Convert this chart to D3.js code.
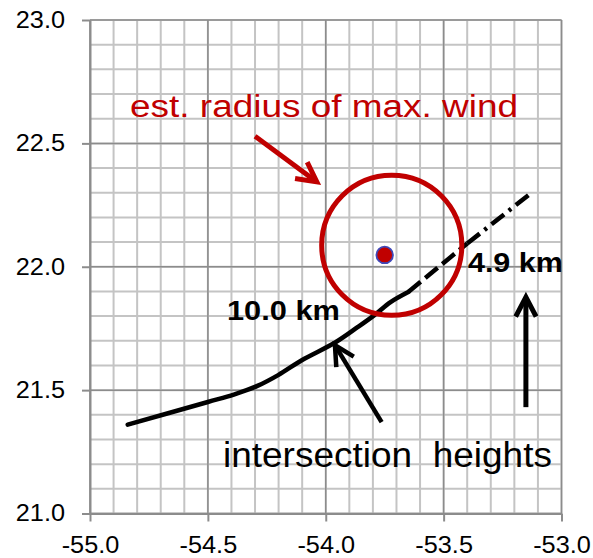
<!DOCTYPE html>
<html>
<head>
<meta charset="utf-8">
<script src="https://cdn.jsdelivr.net/npm/d3@7"></script>
<style>
  html, body { margin: 0; padding: 0; background: #fff; }
  svg { display: block; font-family: "Liberation Sans", Arial, sans-serif; }
</style>
</head>
<body>
<svg id="chart" width="593" height="558"></svg>
<script>
// Axis extents and tick labels
const xDomain = [-55, -53];
const yDomain = [21, 23];
const xTicks = [-55.0, -54.5, -54.0, -53.5, -53.0];
const yTicks = [21.0, 21.5, 22.0, 22.5, 23.0];
const gridStep = 0.1;

// Track of the line of sight (lon, lat) and the drawing style of each segment
const trackLon = [-54.84, -54.50, -54.39, -54.29, -54.20, -54.10, -53.96, -53.865, -53.795, -53.725, -53.65, -53.40, -53.13];
const trackLat = [21.360, 21.452, 21.482, 21.517, 21.562, 21.622, 21.693, 21.755, 21.803, 21.857, 21.898, 22.094, 22.298];
const segStyle = ["solid", "solid", "solid", "solid", "solid", "solid", "solid", "solid", "solid", "solid", "dash", "dashdot"];

// Storm centre and estimated radius of maximum wind (degrees latitude)
const centerLon = -53.75, centerLat = 22.048;
const rmwLon = -53.72, rmwLat = 22.087, rmwRadius = 0.284;

// Text annotations: [text, lon, lat, size, weight, color, width]
const labels = [
  ["est. radius of max. wind", -54.830, 22.607, 31, "normal", "#c00000", 388],
  ["10.0 km", -54.419, 21.786, 28, "bold", "#000", 113],
  ["4.9 km", -53.397, 21.978, 28, "bold", "#000", 95],
  ["intersection  heights", -54.436, 21.188, 35, "normal", "#000", 329]
];

// Arrow annotations: tail lon/lat, tip lon/lat, colour, stroke width
const arrows = [
  [-54.300, 22.529, -54.038, 22.344, "#c00000", 5],
  [-53.763, 21.370, -53.961, 21.682, "#000", 4.5],
  [-53.151, 21.431, -53.151, 21.877, "#000", 5]
];

const svg = d3.select("#chart");
const plotLeft = 90, plotRight = 561.5, plotTop = 20, plotBottom = 513.5;

const x = d3.scaleLinear().domain(xDomain).range([plotLeft, plotRight]);
const y = d3.scaleLinear().domain(yDomain).range([plotBottom, plotTop]);

// Grid: fine lines every 0.1 degree, darker lines at the labelled ticks
const gx = d3.range(0, 21).map(i => xDomain[0] + i * gridStep);
const gy = d3.range(0, 21).map(i => yDomain[0] + i * gridStep);
const grid = svg.append("g");
grid.append("g").selectAll("line").data(gx).join("line")
  .attr("x1", d => x(d)).attr("x2", d => x(d))
  .attr("y1", plotTop).attr("y2", plotBottom)
  .attr("stroke", "#c4c4c4").attr("stroke-width", 2);
grid.append("g").selectAll("line").data(gy).join("line")
  .attr("y1", d => y(d)).attr("y2", d => y(d))
  .attr("x1", plotLeft).attr("x2", plotRight)
  .attr("stroke", "#c4c4c4").attr("stroke-width", 2);
grid.append("g").selectAll("line").data(xTicks).join("line")
  .attr("x1", d => x(d)).attr("x2", d => x(d))
  .attr("y1", plotTop).attr("y2", plotBottom)
  .attr("stroke", "#8c8c8c").attr("stroke-width", 1.5);
grid.append("g").selectAll("line").data(yTicks).join("line")
  .attr("y1", d => y(d)).attr("y2", d => y(d))
  .attr("x1", plotLeft).attr("x2", plotRight)
  .attr("stroke", "#8c8c8c").attr("stroke-width", 1.5);

// Axes (plain hyphen for negative numbers)
const fmt = d => d.toFixed(1);
const xAxis = d3.axisBottom(x).tickValues(xTicks).tickFormat(fmt)
  .tickSize(8).tickPadding(15).tickSizeOuter(0);
const yAxis = d3.axisLeft(y).tickValues(yTicks).tickFormat(fmt)
  .tickSize(8).tickPadding(17).tickSizeOuter(0);

function styleAxis(g) {
  g.select(".domain").attr("stroke", "#8c8c8c").attr("stroke-width", 2);
  g.selectAll(".tick line").attr("stroke", "#8c8c8c").attr("stroke-width", 2);
  g.selectAll(".tick text")
    .attr("fill", "#000")
    .style("font-size", "23px")
    .style("font-family", "'Liberation Sans', Arial, sans-serif")
    .attr("textLength", function () { return this.getComputedTextLength() * 1.1; })
    .attr("lengthAdjust", "spacingAndGlyphs");
}
svg.append("g").attr("transform", `translate(0,${plotBottom})`).call(xAxis).call(styleAxis);
svg.append("g").attr("transform", `translate(${plotLeft},0)`).call(yAxis).call(styleAxis);

// Track line, split into runs of equal style; the solid run is smoothed
const dashes = { solid: null, dash: "16,6", dashdot: "16,6,3,6" };
const smooth = d3.line().x(d => x(d[0])).y(d => y(d[1])).curve(d3.curveCatmullRom.alpha(0.5));
const straight = d3.line().x(d => x(d[0])).y(d => y(d[1]));
const runs = [];
segStyle.forEach((s, i) => {
  const a = [trackLon[i], trackLat[i]], b = [trackLon[i + 1], trackLat[i + 1]];
  const last = runs[runs.length - 1];
  if (last && last.style === s) last.pts.push(b);
  else runs.push({ style: s, pts: [a, b] });
});
svg.append("g").selectAll("path").data(runs).join("path")
  .attr("d", d => d.style === "solid" ? smooth(d.pts) : straight(d.pts))
  .attr("fill", "none")
  .attr("stroke", "#000")
  .attr("stroke-width", 4.5)
  .attr("stroke-linecap", d => d.style === "solid" ? "round" : "butt")
  .attr("stroke-linejoin", "round")
  .attr("stroke-dasharray", d => dashes[d.style]);

// Radius of maximum wind
svg.append("circle")
  .attr("cx", x(rmwLon)).attr("cy", y(rmwLat))
  .attr("r", y(rmwLat - rmwRadius) - y(rmwLat))
  .attr("fill", "none").attr("stroke", "#c00000").attr("stroke-width", 5);

// Storm centre
svg.append("circle")
  .attr("cx", x(centerLon)).attr("cy", y(centerLat))
  .attr("r", 8.3)
  .attr("fill", "#c00000").attr("stroke", "#3f48b8").attr("stroke-width", 1.8);

// Arrows
const ag = svg.append("g");
arrows.forEach(([lon0, lat0, lon1, lat1, col, w]) => {
  const x0 = x(lon0), y0 = y(lat0), x1 = x(lon1), y1 = y(lat1);
  const ang = Math.atan2(y1 - y0, x1 - x0);
  const len = 22, spread = Math.PI / 6.5;
  const h1 = [x1 - len * Math.cos(ang - spread), y1 - len * Math.sin(ang - spread)];
  const h2 = [x1 - len * Math.cos(ang + spread), y1 - len * Math.sin(ang + spread)];
  ag.append("line").attr("x1", x0).attr("y1", y0).attr("x2", x1 - 2 * Math.cos(ang)).attr("y2", y1 - 2 * Math.sin(ang))
    .attr("stroke", col).attr("stroke-width", w);
  ag.append("polyline").attr("points", [h1, [x1, y1], h2].map(p => p.join(",")).join(" "))
    .attr("fill", "none").attr("stroke", col).attr("stroke-width", w)
    .attr("stroke-linejoin", "miter");
});

// Labels
svg.append("g").selectAll("text").data(labels).join("text")
  .attr("x", d => x(d[1])).attr("y", d => y(d[2]))
  .style("font-size", d => d[3] + "px")
  .style("font-weight", d => d[4])
  .attr("fill", d => d[5])
  .attr("textLength", d => d[6])
  .attr("lengthAdjust", "spacingAndGlyphs")
  .style("white-space", "pre")
  .attr("xml:space", "preserve")
  .text(d => d[0]);
</script>
</body>
</html>
